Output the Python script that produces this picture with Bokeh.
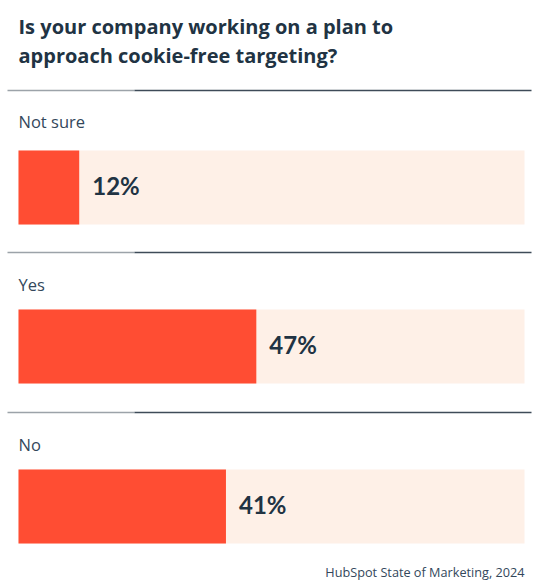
from bokeh.plotting import figure
from bokeh.models import Range1d, ColumnDataSource
from bokeh.core.properties import value
from bokeh.embed import file_html
from bokeh.resources import INLINE

# Survey answers and shares (%)
categories = ["Not sure", "Yes", "No"]
shares = [12, 47, 41]
value_labels = ["12%", "47%", "41%"]
title_lines = ["Is your company working on a plan to",
               "approach cookie-free targeting?"]
source_note = "HubSpot State of Marketing, 2024"

W, H = 538, 587
LEFT_PX, RIGHT_PX = 18, 524          # bar track extent in pixels
SCALE = (RIGHT_PX - LEFT_PX) / 100.0  # pixels per percentage point


def px(xp):
    """Convert a horizontal pixel position to percent units."""
    return (xp - LEFT_PX) / SCALE


RED = "#FF4D33"
TRACK = "#FEF0E7"
NAVY = "#213343"
LABEL = "#33475B"

p = figure(width=W, height=H, output_backend="svg", toolbar_location=None,
           x_range=Range1d(px(0), px(W)), y_range=Range1d(H, 0),
           min_border=0, border_fill_color="white", background_fill_color="white")
p.xaxis.visible = False
p.yaxis.visible = False
p.xgrid.visible = False
p.ygrid.visible = False
p.outline_line_color = None

# Row layout (vertical pixel positions)
sep_y = [90, 252, 412]
bar_top = [150, 309, 469]
bar_h = 74
bar_mid = [t + bar_h / 2 for t in bar_top]
label_mid = [121, 284, 444]

src = ColumnDataSource(dict(cat=categories, share=shares, lab=value_labels,
                            y=bar_mid, ly=label_mid, sep=sep_y,
                            vx=[s + 13 / SCALE for s in shares]))

# Separator rules: light grey stub on the left, dark rule on the rest
p.segment(x0=px(7), x1=px(134), y0="sep", y1="sep", source=src,
          line_color="#9CA3A9", line_width=1.5)
p.segment(x0=px(134), x1=px(531), y0="sep", y1="sep", source=src,
          line_color="#3E4B58", line_width=1.5)

# Full-width track, then the share bar on top
p.hbar(y="y", left=0, right=100, height=bar_h, source=src,
       fill_color=TRACK, line_color=None)
p.hbar(y="y", left=0, right="share", height=bar_h, source=src,
       fill_color=RED, line_color=None)

# Category labels
p.text(x=0, y="ly", text="cat", source=src, text_font=value("Open Sans"),
       text_font_size="16.5px", text_color=LABEL, text_baseline="middle")

# Value labels next to each bar
p.text(x="vx", y="y", text="lab", source=src, text_font=value("Lato"),
       text_font_style="bold", text_font_size="24px", text_color=NAVY,
       text_baseline="middle", y_offset=-2)

# Title
p.text(x=[0, 0], y=[25.5, 55], text=title_lines, text_font=value("Open Sans"),
       text_font_style="bold", text_font_size="20px", text_color=NAVY,
       text_baseline="middle")

# Source note
p.text(x=[100], y=[571], text=[source_note], text_font=value("Open Sans"),
       text_font_size="12.7px", text_color=LABEL, text_align="right",
       text_baseline="middle")

open("out.html", "w").write(file_html(p, INLINE))
